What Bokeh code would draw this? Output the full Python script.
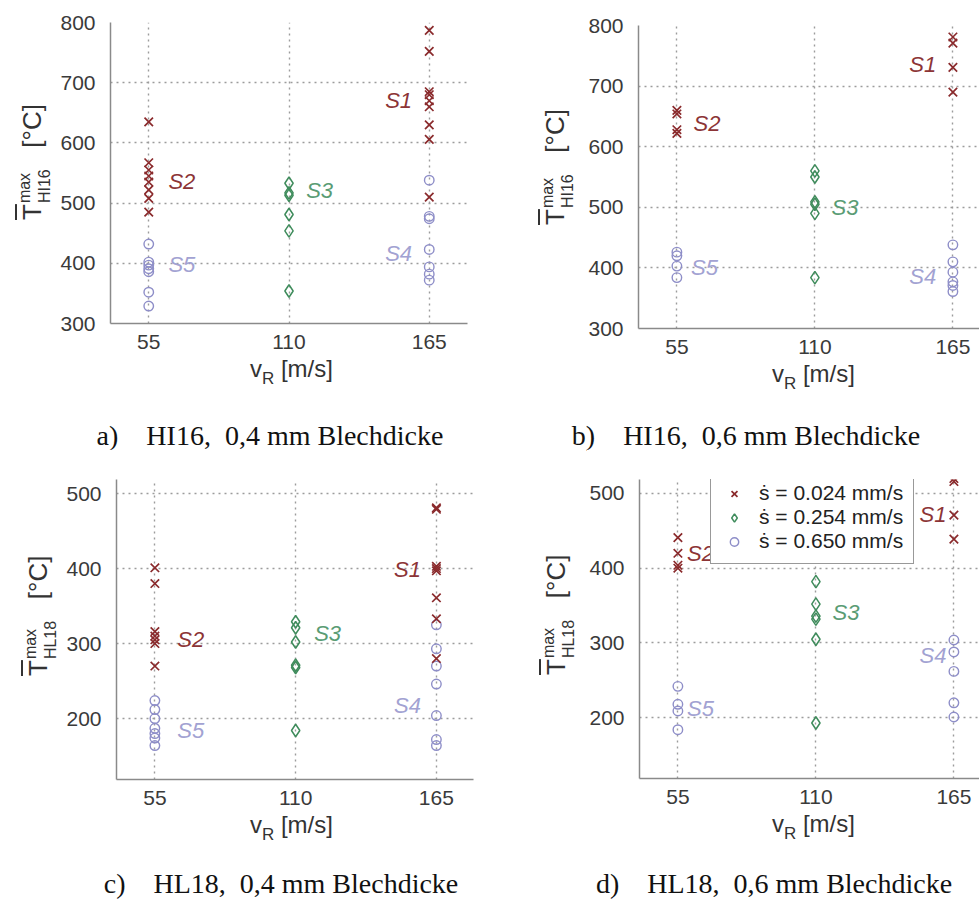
from bokeh.plotting import figure
from bokeh.models import FixedTicker, Range1d, ColumnDataSource, Legend, LegendItem, Div
from bokeh.layouts import column, row
from bokeh.embed import file_html
from bokeh.resources import INLINE
from bokeh.core.properties import value

# ---------------- data ----------------
VR = [55, 110, 165]                       # x categories (m/s)
S_NAMES = ["S1", "S2", "S3", "S4", "S5"]
LEGEND_LABELS = ["\u1e61 = 0.024 mm/s", "\u1e61 = 0.254 mm/s", "\u1e61 = 0.650 mm/s"]
_G1 = "&nbsp;" * 4
_G2 = "&nbsp;" * 2
CAPTIONS = [f"a){_G1}HI16,{_G2}0,4 mm Blechdicke",
            f"b){_G1}HI16,{_G2}0,6 mm Blechdicke",
            f"c){_G1}HL18,{_G2}0,4 mm Blechdicke",
            f"d){_G1}HL18,{_G2}0,6 mm Blechdicke"]
SUBS = ["HI16", "HI16", "HL18", "HL18"]

# a) HI16, 0,4 mm
a_s2_cross = [635, 567, 555, 545, 535, 522, 508, 485]          # x = 55
a_s1_cross = [787, 752, 685, 680, 670, 660, 630, 606, 510]     # x = 165
a_s3_diam = [533, 517, 513, 481, 454, 354]                     # x = 110
a_s5_circ = [432, 402, 397, 391, 386, 352, 329]                # x = 55
a_s4_circ = [538, 478, 474, 423, 394, 382, 372]                # x = 165
a_lbl_x = [153, 68, 122, 153, 68]
a_lbl_y = [671, 536, 521, 416, 398]

# b) HI16, 0,6 mm
b_s2_cross = [660, 654, 628, 622]
b_s1_cross = [781, 771, 731, 690]
b_s3_diam = [560, 550, 509, 505, 490, 384]
b_s5_circ = [426, 420, 403, 384]
b_s4_circ = [438, 410, 393, 377, 371, 361]
b_lbl_x = [153, 67, 122, 153, 66]
b_lbl_y = [736, 639, 499, 386, 400]

# c) HL18, 0,4 mm
c_s2_cross = [401, 380, 316, 310, 305, 300, 270]
c_s1_cross = [481, 479, 403, 400, 397, 361, 333, 280]
c_s3_diam = [329, 321, 302, 271, 268, 184]
c_s5_circ = [224, 212, 200, 187, 180, 174, 164]
c_s4_circ = [325, 293, 270, 246, 204, 172, 164]
c_lbl_x = [153.7, 69, 122.5, 153.7, 69]
c_lbl_y = [399, 305, 313, 218, 184]

# d) HL18, 0,6 mm
d_s2_cross = [441, 420, 404, 400]
d_s1_cross = [520, 516, 471, 439]
d_s3_diam = [382, 352, 336, 332, 305, 193]
d_s5_circ = [242, 218, 209, 184]
d_s4_circ = [304, 288, 262, 220, 201]
d_lbl_x = [156.7, 64, 122, 156.7, 64]
d_lbl_y = [472, 420, 341, 283, 213]

YTICKS_HI = [300, 400, 500, 600, 700, 800]
YTICKS_HL = [200, 300, 400, 500]

# ---------------- style ----------------
RED = "#8a2a2c"
GREEN = "#3f8c5c"
PURPLE = "#8e8ec8"
RED_T = "#8c3436"
GREEN_T = "#5a9c74"
PURPLE_T = "#a2a2d2"
LBL_COLORS = [RED_T, RED_T, GREEN_T, PURPLE_T, PURPLE_T]
SANS = "Liberation Sans"
UNIT_H = 449
MB = 32  # space under the frame kept inside the figure (tick labels)


def ylabel_div(w, h, X, Y, sub):
    html = (
        f'<div style="position:relative;width:{w}px;height:{h}px;">'
        f'<div style="position:absolute;left:{X}px;top:{Y}px;transform-origin:0 0;'
        f'transform:rotate(-90deg);white-space:nowrap;font-family:\'Liberation Sans\';'
        f'color:#333333;font-size:26px;line-height:30px;">'
        f'<span style="text-decoration:overline;text-decoration-thickness:1.6px;">T</span>'
        f'<span style="display:inline-block;font-size:16px;line-height:20px;'
        f'vertical-align:-9px;margin-left:1px;">max<br>{sub}</span>'
        f'&nbsp;&nbsp;&nbsp;[\u00b0C]</div></div>')
    return Div(text=html, width=w, height=h, margin=0)


def xlabel_div(w, h, vx, vtop, cap, cx, ctop):
    html = (
        f'<div style="position:relative;width:{w}px;height:{h}px;">'
        f'<div style="position:absolute;left:{vx}px;top:{vtop}px;white-space:nowrap;'
        f'font-family:\'Liberation Sans\';font-size:24px;line-height:22px;color:#333333;">'
        f'v<span style="font-size:17px;line-height:1;vertical-align:-7px;">R</span> [m/s]</div>'
        f'<div style="position:absolute;left:{cx}px;top:{ctop}px;transform:translateX(-50%);'
        f'white-space:nowrap;font-family:\'Liberation Serif\';font-size:28px;line-height:27px;'
        f'color:#111111;">{cap}</div></div>')
    return Div(text=html, width=w, height=h, margin=0)


def make_panel(cross55, cross165, diam110, circ55, circ165, lbl_x, lbl_y,
               yrange, yticks, xrange, unit, frame, lw, xoff, cap_cx, cap_base,
               idx, legend=False):
    ux, uy, uw = unit
    FL, FR, FT, FB = frame
    fig_w = uw - lw
    fig_h = FB + MB - uy
    p = figure(width=fig_w, height=fig_h, output_backend="svg", toolbar_location=None,
               x_range=Range1d(*xrange), y_range=Range1d(*yrange),
               min_border_left=FL - (ux + lw), min_border_right=ux + uw - FR,
               min_border_top=FT - uy, min_border_bottom=MB)
    p.outline_line_color = None
    p.background_fill_color = "white"
    p.border_fill_color = "white"

    for ax in (p.xaxis[0], p.yaxis[0]):
        ax.axis_line_color = "#8a8a8a"
        ax.axis_line_width = 1.5
        ax.major_tick_line_color = None
        ax.minor_tick_line_color = None
        ax.major_label_text_font = SANS
        ax.major_label_text_font_size = "21px"
        ax.major_label_text_color = "#3a3a3a"
    p.xaxis.ticker = FixedTicker(ticks=VR)
    p.yaxis.ticker = FixedTicker(ticks=yticks)
    p.xaxis.major_label_standoff = 5
    p.yaxis.major_label_standoff = 9

    for g in (p.xgrid[0], p.ygrid[0]):
        g.grid_line_color = "#9c9c9c"
        g.grid_line_dash = "2 4"
        g.grid_line_width = 1.4

    cross_src = ColumnDataSource(dict(x=[VR[0]] * len(cross55) + [VR[2]] * len(cross165),
                                      y=cross55 + cross165))
    diam_src = ColumnDataSource(dict(x=[VR[1]] * len(diam110), y=diam110))
    circ_src = ColumnDataSource(dict(x=[VR[0]] * len(circ55) + [VR[2]] * len(circ165),
                                     y=circ55 + circ165))
    r_circ = p.scatter("x", "y", source=circ_src, marker="circle", size=9.5,
                       fill_color=None, line_color=PURPLE, line_width=1.4)
    r_diam = p.scatter("x", "y", source=diam_src, marker="diamond", size=12.5,
                       fill_color=None, line_color=GREEN, line_width=1.5)
    r_cross = p.scatter("x", "y", source=cross_src, marker="x", size=12,
                        line_color=RED, line_width=1.7)

    lbl_src = ColumnDataSource(dict(x=lbl_x, y=lbl_y, t=S_NAMES, c=LBL_COLORS))
    p.text("x", "y", text="t", source=lbl_src, text_font=value(SANS),
           text_font_style="italic", text_font_size="22px", text_color="c",
           text_align="center", text_baseline="middle")

    if legend:
        fh = FB - FT
        lg = Legend(items=[LegendItem(label=LEGEND_LABELS[0], renderers=[r_cross]),
                           LegendItem(label=LEGEND_LABELS[1], renderers=[r_diam]),
                           LegendItem(label=LEGEND_LABELS[2], renderers=[r_circ])],
                    location=(71, fh - 85),
                    label_text_font=SANS, label_text_font_size="21px",
                    label_text_color="#222222",
                    border_line_color="#333333", border_line_width=1.5,
                    background_fill_color="white", background_fill_alpha=1.0,
                    padding=10, spacing=0, margin=0, label_height=21,
                    glyph_height=21, glyph_width=26, label_standoff=12)
        p.add_layout(lg)

    # y label (left strip), x label + caption (bottom strip)
    ydiv = ylabel_div(lw, fig_h, FL - 69 - 26.5 - ux, FB - 103 - uy, SUBS[idx])
    xd_top = FB + MB
    xd_h = UNIT_H - fig_h
    xdiv = xlabel_div(uw, xd_h, FL + xoff - ux, FB + 54 - 19.3 - xd_top,
                      CAPTIONS[idx], cap_cx - ux, cap_base - 23 - xd_top)
    return column(row(ydiv, p), xdiv)


ua = make_panel(a_s2_cross, a_s1_cross, a_s3_diam, a_s5_circ, a_s4_circ, a_lbl_x, a_lbl_y,
                (300, 800), YTICKS_HI, (40, 180), (0, 0, 490), (110, 467, 22, 323), 55, 140,
                270, 445, 0)
ub = make_panel(b_s2_cross, b_s1_cross, b_s3_diam, b_s5_circ, b_s4_circ, b_lbl_x, b_lbl_y,
                (300, 800), YTICKS_HI, (39.7, 175.6), (490, 0, 489), (633, 979, 25, 328), 95, 139,
                746, 445, 1)
uc = make_panel(c_s2_cross, c_s1_cross, c_s3_diam, c_s5_circ, c_s4_circ, c_lbl_x, c_lbl_y,
                (118.7, 518.7), YTICKS_HL, (40, 179.5), (0, 449, 490), (116, 473, 479, 779), 60, 134,
                281, 893, 2)
ud = make_panel(d_s2_cross, d_s1_cross, d_s3_diam, d_s5_circ, d_s4_circ, d_lbl_x, d_lbl_y,
                (118.7, 518.7), YTICKS_HL, (39.7, 175.2), (490, 449, 489), (634, 979, 479, 778), 96, 138,
                774, 893, 3, legend=True)

layout = column(row(ua, ub), row(uc, ud))
open("out.html", "w").write(file_html(layout, INLINE))
